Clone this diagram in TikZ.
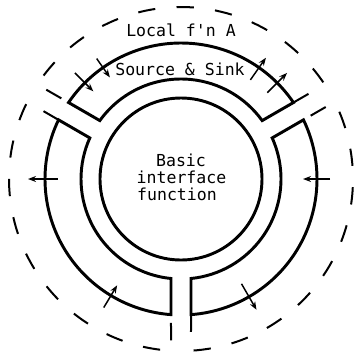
\documentclass[tikz,border=0pt]{standalone}
\usepackage{fontspec}
\setmonofont{DejaVu Sans Mono}
\usetikzlibrary{arrows.meta}
\begin{document}
\begin{tikzpicture}[x=0.75pt,y=0.75pt,
  seg/.style={line width=2.2pt, line join=miter},
  loc/.style={line width=1.5pt, dash pattern=on 13pt off 16pt},
  flow/.style={line width=1.1pt, -{Stealth[length=6pt,width=4.5pt]}},
  lbl/.style={font=\ttfamily\fontsize{12.4}{12.5}\selectfont, inner sep=0pt, anchor=base}]
\useasboundingbox (-181,-179) rectangle (179,179);
\coordinate (c) at (0,0);
% core circle
\node[circle, draw, line width=2.2pt, minimum size=121.5pt, inner sep=0pt] (core) at (c) {};
% three source & sink segments
\draw[seg] (34.22:136) arc[start angle=34.22, end angle=145.78, radius=136]
  -- (144.26:100) arc[start angle=144.26, end angle=35.74, radius=100] -- cycle;
\draw[seg] (154.22:136) arc[start angle=154.22, end angle=265.78, radius=136]
  -- (264.26:100) arc[start angle=264.26, end angle=155.74, radius=100] -- cycle;
\draw[seg] (274.22:136) arc[start angle=274.22, end angle=385.78, radius=136]
  -- (384.26:100) arc[start angle=384.26, end angle=275.74, radius=100] -- cycle;
% dashed local function regions
\draw[loc] (34.22:136) -- (33.33:172) arc[start angle=33.33, end angle=146.67, radius=172] -- (145.78:136);
\draw[loc] (154.22:136) -- (153.33:172) arc[start angle=153.33, end angle=266.67, radius=172] -- (265.78:136);
\draw[loc] (274.22:136) -- (273.33:172) arc[start angle=273.33, end angle=386.67, radius=172] -- (385.78:136);
% flow arrows
\foreach \n/\a/\r/\s in {1/125/147/124, 2/135/150/124, 3/55/121/148, 4/45/122/150,
    5/180/123/153, 6/0/149/122, 7/239/150/124, 8/300/121/151}{
  \coordinate (f\n s) at (\a:\r);
  \coordinate (f\n e) at (\a:\s);
  \draw[flow] (f\n s) -- (f\n e);
}
% labels
\node[lbl] (loca) at (0,142.3) {Local f'n A};
\node[lbl] (src) at (-1,103.3) {Source \& Sink};
\node[lbl] (b1) at (0,12.3) {Basic};
\node[lbl] (b2) at (0.5,-4.3) {interface};
\node[lbl] (b3) at (-4,-21) {function};
\end{tikzpicture}
\end{document}
